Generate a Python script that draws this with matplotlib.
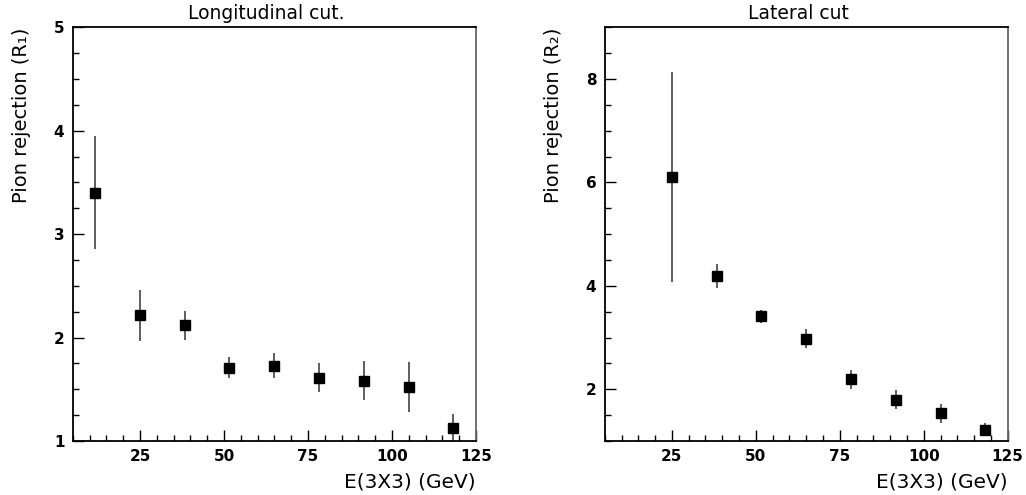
import numpy as np
import matplotlib
matplotlib.use("Agg")
import matplotlib.pyplot as plt
from matplotlib.ticker import MultipleLocator

# energy points (GeV)
e_long = [11.7, 25.0, 38.4, 51.6, 65.0, 78.4, 91.7, 105.0, 118.3]
r1 = [3.40, 2.22, 2.12, 1.71, 1.73, 1.61, 1.58, 1.52, 1.13]
r1_hi = [3.95, 2.46, 2.26, 1.81, 1.85, 1.75, 1.77, 1.76, 1.26]
r1_lo = [2.86, 1.97, 1.98, 1.61, 1.61, 1.47, 1.40, 1.28, 1.00]

e_lat = [25.0, 38.3, 51.6, 65.0, 78.3, 91.7, 105.0, 118.3]
r2 = [6.11, 4.19, 3.41, 2.98, 2.19, 1.80, 1.54, 1.21]
r2_hi = [8.14, 4.42, 3.53, 3.16, 2.37, 1.98, 1.72, 1.34]
r2_lo = [4.07, 3.95, 3.29, 2.80, 2.00, 1.62, 1.35, 1.10]

x_ticks = [25, 50, 75, 100, 125]


def draw_panel(ax, x, y, hi, lo, title, ylabel, ylim, ymajor, yminor):
    y = np.array(y)
    yerr = [y - np.array(lo), np.array(hi) - y]
    ax.errorbar(x, y, yerr=yerr, fmt='s', color='black', ms=7.2,
                ecolor='#333333', elinewidth=1.1, capsize=0)
    ax.set_xlim(5, 125)
    ax.set_ylim(*ylim)
    ax.set_xticks(x_ticks)
    ax.xaxis.set_minor_locator(MultipleLocator(5))
    ax.yaxis.set_major_locator(MultipleLocator(ymajor))
    ax.yaxis.set_minor_locator(MultipleLocator(yminor))
    ax.tick_params(which='both', direction='in', top=False, right=False,
                   labelsize=11, pad=6)
    ax.tick_params(which='major', length=8, width=1)
    ax.tick_params(which='minor', length=4, width=1)
    for lab in ax.get_xticklabels() + ax.get_yticklabels():
        lab.set_fontweight('bold')
    for side in ['left', 'bottom', 'top']:
        ax.spines[side].set_linewidth(1.3)
    ax.spines['right'].set_color('#666666')
    ax.spines['right'].set_linewidth(1.3)
    ax.set_title(title, fontsize=13.5, pad=6, x=0.48)
    ax.set_ylabel(ylabel, fontsize=14, loc='top', labelpad=16)
    ax.set_xlabel('E(3X3) (GeV)', fontsize=14.5, loc='right', labelpad=6)


fig = plt.figure(figsize=(10.26, 4.95), dpi=100)
ax1 = fig.add_axes([0.0709, 0.109, 0.393, 0.836])
ax2 = fig.add_axes([0.5894, 0.109, 0.3928, 0.836])

draw_panel(ax1, e_long, r1, r1_hi, r1_lo, 'Longitudinal cut.',
           'Pion rejection (R\u2081)', (1, 5), 1, 0.25)
draw_panel(ax2, e_lat, r2, r2_hi, r2_lo, 'Lateral cut',
           'Pion rejection (R\u2082)', (1, 9), 2, 0.5)

fig.savefig('out.png', dpi=100)
